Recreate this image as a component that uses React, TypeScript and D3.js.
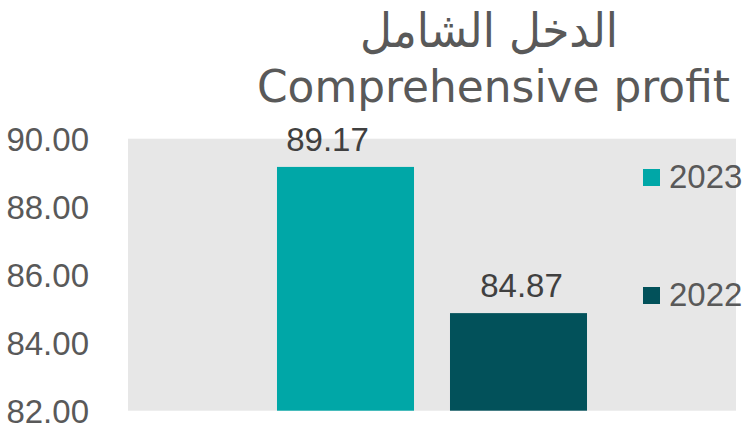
import React from "react";
import * as d3 from "d3";

const categories = ["2023", "2022"];
const values = [89.17, 84.87];
const seriesColors = ["#00A7A7", "#02515A"];
const yTicks = [82, 84, 86, 88, 90];
const titleArabic = "الدخل الشامل";
const titleEnglish = "Comprehensive profit";

const W = 746;
const H = 426;
const plot = { left: 128, right: 736, top: 138.7, bottom: 410.7 };

export default function App() {
  const y = d3.scaleLinear().domain([82, 90]).range([plot.bottom, plot.top]);
  const x = d3
    .scaleBand<string>()
    .domain(categories)
    .range([259, 605])
    .paddingInner(0.208)
    .paddingOuter(0.104);
  const numFont = "'Liberation Sans', Arial, sans-serif";
  const fmt = d3.format(".2f");
  const legendY = d3.scalePoint<string>().domain(categories).range([169, 287]);

  return (
    <div style={{ position: "fixed", left: 0, top: 0 }}>
      <svg width={W} height={H} style={{ display: "block", background: "#fff" }}>
        <rect
          x={plot.left}
          y={plot.top}
          width={plot.right - plot.left}
          height={plot.bottom - plot.top}
          fill="#E7E7E7"
        />
        {/* title */}
        <text
          x={489}
          y={47}
          textAnchor="middle"
          fontFamily="'DejaVu Sans', sans-serif"
          fontSize={48}
          fill="#595959"
          textLength={258}
          lengthAdjust="spacingAndGlyphs"
          direction="rtl"
        >
          {titleArabic}
        </text>
        <text
          x={493.5}
          y={102}
          textAnchor="middle"
          fontFamily="'DejaVu Sans', sans-serif"
          fontSize={44}
          fill="#595959"
          textLength={473}
          lengthAdjust="spacingAndGlyphs"
        >
          {titleEnglish}
        </text>
        {/* y axis labels */}
        {yTicks.map((t) => (
          <text
            key={t}
            x={89}
            y={y(t) + 12}
            textAnchor="end"
            fontFamily={numFont}
            fontSize={33}
            fill="#595959"
          >
            {fmt(t)}
          </text>
        ))}
        {/* bars */}
        {categories.map((c, i) => (
          <rect
            key={c}
            x={x(c)}
            y={y(values[i])}
            width={x.bandwidth()}
            height={plot.bottom - y(values[i])}
            fill={seriesColors[i]}
          />
        ))}
        {/* data labels */}
        {categories.map((c, i) => (
          <text
            key={c}
            x={(x(c) as number) + x.bandwidth() / 2 + (i === 0 ? -18 : 3)}
            y={y(values[i]) - 16}
            textAnchor="middle"
            fontFamily={numFont}
            fontSize={33}
            fill="#404040"
          >
            {fmt(values[i])}
          </text>
        ))}
        {/* legend */}
        {categories.map((c, i) => (
          <g key={c}>
            <rect x={643} y={legendY(c)} width={17} height={17} fill={seriesColors[i]} />
            <text
              x={669}
              y={(legendY(c) as number) + 19}
              fontFamily={numFont}
              fontSize={33}
              fill="#595959"
            >
              {c}
            </text>
          </g>
        ))}
      </svg>
    </div>
  );
}
